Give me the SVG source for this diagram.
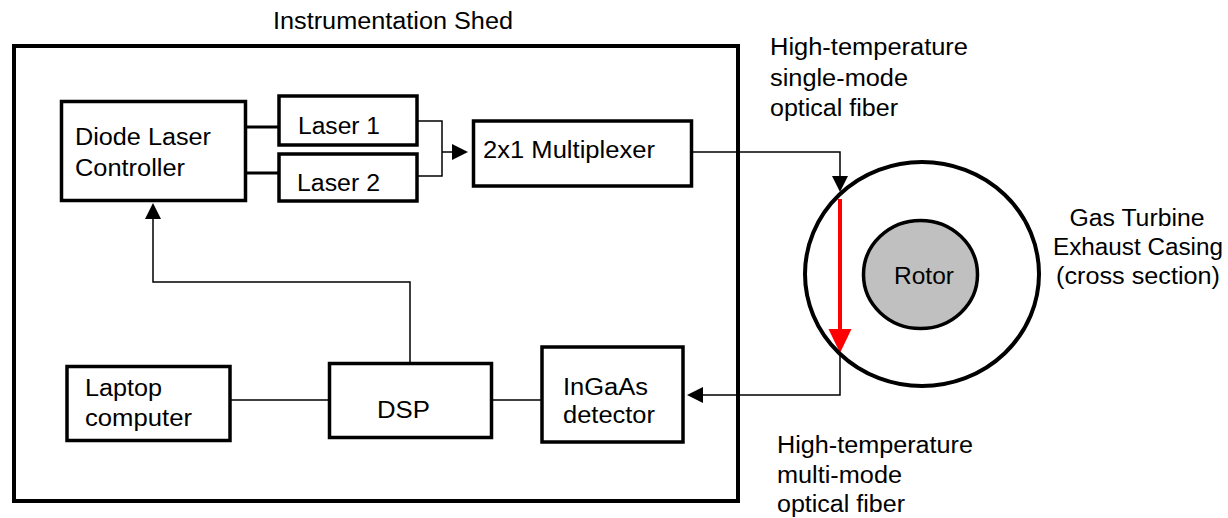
<svg xmlns="http://www.w3.org/2000/svg" width="1228" height="518" viewBox="0 0 1228 518">
<defs>
<style>
.box{fill:#fff;stroke:#000;stroke-width:3.5}
.lbl{font-family:"Liberation Sans",Arial,sans-serif;font-size:23.5px;fill:#000}
.mid{text-anchor:middle}
.wire{fill:none;stroke:#000;stroke-width:1.5}
.thick{fill:none;stroke:#000;stroke-width:3}
.red{fill:none;stroke:#ff0000;stroke-width:4}
</style>
<marker id="ah" markerUnits="userSpaceOnUse" markerWidth="16" markerHeight="16" refX="0" refY="8" orient="auto" overflow="visible">
<path d="M0,0 L16,8 L0,16 z" fill="#000"/>
</marker>
<marker id="ahr" markerUnits="userSpaceOnUse" markerWidth="24" markerHeight="24" refX="0" refY="11.5" orient="auto" overflow="visible">
<path d="M0,0 L24,11.5 L0,23 z" fill="#ff0000"/>
</marker>
</defs>
<rect width="1228" height="518" fill="#fff"/>

<g id="shed">
<rect x="14" y="46" width="724" height="455" fill="none" stroke="#000" stroke-width="4"/>
<text class="lbl" x="273" y="29" textLength="240" lengthAdjust="spacingAndGlyphs">Instrumentation Shed</text>
</g>

<g id="connectors">
<path class="thick" d="M247,127 H279 M247,173 H279"/>
<path class="wire" d="M417,121 H442 V176 H417"/>
<path class="wire" d="M442,152 H452" marker-end="url(#ah)"/>
<path class="wire" d="M692,152 H840 V176" marker-end="url(#ah)"/>
<path class="red" d="M840,199 V329" marker-end="url(#ahr)"/>
<path class="wire" d="M840,353 V395 H703" marker-end="url(#ah)"/>
<path class="wire" d="M410,363 V282 H153 V219" marker-end="url(#ah)"/>
<path class="wire" d="M231,400 H329 M492,400 H542"/>
</g>

<g id="controller">
<rect class="box" x="61.5" y="101.5" width="184" height="99"/>
<text class="lbl" x="75" y="145" textLength="136" lengthAdjust="spacingAndGlyphs">Diode Laser</text>
<text class="lbl" x="75" y="176" textLength="110" lengthAdjust="spacingAndGlyphs">Controller</text>
</g>

<g id="laser1">
<rect class="box" x="279" y="96" width="138" height="49"/>
<text class="lbl" x="298" y="134" textLength="82" lengthAdjust="spacingAndGlyphs">Laser 1</text>
</g>

<g id="laser2">
<rect class="box" x="279" y="154" width="138" height="47"/>
<text class="lbl" x="297" y="191" textLength="83" lengthAdjust="spacingAndGlyphs">Laser 2</text>
</g>

<g id="multiplexer">
<rect class="box" x="473.5" y="121" width="218" height="65"/>
<text class="lbl" x="483" y="158" textLength="172" lengthAdjust="spacingAndGlyphs">2x1 Multiplexer</text>
</g>

<g id="laptop">
<rect class="box" x="67" y="366.5" width="163" height="74"/>
<text class="lbl" x="85" y="396" textLength="77" lengthAdjust="spacingAndGlyphs">Laptop</text>
<text class="lbl" x="85" y="426" textLength="107" lengthAdjust="spacingAndGlyphs">computer</text>
</g>

<g id="dsp">
<rect class="box" x="329.5" y="363.5" width="162" height="74"/>
<text class="lbl" x="377" y="418" textLength="53" lengthAdjust="spacingAndGlyphs">DSP</text>
</g>

<g id="detector">
<rect class="box" x="542" y="347" width="141" height="95"/>
<text class="lbl" x="563" y="395" textLength="85" lengthAdjust="spacingAndGlyphs">InGaAs</text>
<text class="lbl" x="563" y="423" textLength="92" lengthAdjust="spacingAndGlyphs">detector</text>
</g>

<g id="casing">
<ellipse cx="922" cy="274" rx="117" ry="112" fill="none" stroke="#000" stroke-width="4"/>
<text class="lbl mid" x="1137" y="226" textLength="135" lengthAdjust="spacingAndGlyphs">Gas Turbine</text>
<text class="lbl mid" x="1138" y="255" textLength="170" lengthAdjust="spacingAndGlyphs">Exhaust Casing</text>
<text class="lbl mid" x="1138" y="284" textLength="164" lengthAdjust="spacingAndGlyphs">(cross section)</text>
</g>

<g id="rotor">
<ellipse cx="920.5" cy="274.5" rx="57" ry="54" fill="#c0c0c0" stroke="#000" stroke-width="3.5"/>
<text class="lbl" x="894" y="284" textLength="60" lengthAdjust="spacingAndGlyphs">Rotor</text>
</g>

<g id="fiber-single">
<text class="lbl" x="770" y="55" textLength="198" lengthAdjust="spacingAndGlyphs">High-temperature</text>
<text class="lbl" x="770" y="86" textLength="138" lengthAdjust="spacingAndGlyphs">single-mode</text>
<text class="lbl" x="770" y="116" textLength="128" lengthAdjust="spacingAndGlyphs">optical fiber</text>
</g>

<g id="fiber-multi">
<text class="lbl" x="777" y="453" textLength="196" lengthAdjust="spacingAndGlyphs">High-temperature</text>
<text class="lbl" x="777" y="483" textLength="125" lengthAdjust="spacingAndGlyphs">multi-mode</text>
<text class="lbl" x="777" y="512" textLength="128" lengthAdjust="spacingAndGlyphs">optical fiber</text>
</g>
</svg>
